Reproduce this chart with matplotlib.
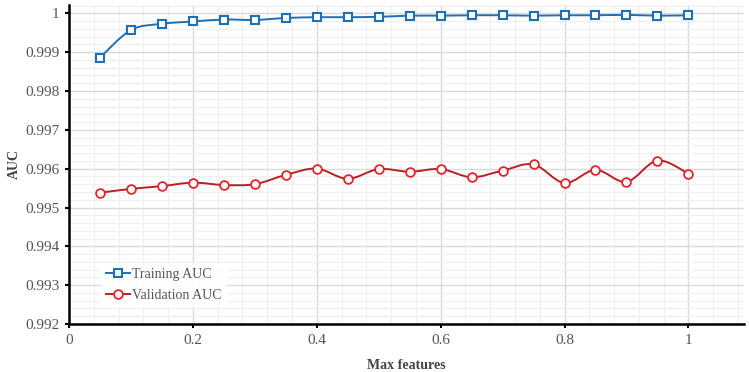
import matplotlib
matplotlib.use("Agg")
import matplotlib.pyplot as plt
from matplotlib.path import Path
from matplotlib.patches import PathPatch
from matplotlib.lines import Line2D
from matplotlib.ticker import MultipleLocator, FuncFormatter

max_features = [0.05, 0.1, 0.15, 0.2, 0.25, 0.3, 0.35, 0.4, 0.45, 0.5,
                0.55, 0.6, 0.65, 0.7, 0.75, 0.8, 0.85, 0.9, 0.95, 1.0]

train_auc = [0.99886, 0.99957, 0.99973, 0.99979, 0.99984, 0.99983, 0.99988,
             0.99990, 0.99990, 0.99991, 0.99994, 0.99994, 0.99995, 0.99995,
             0.99994, 0.99995, 0.99995, 0.99996, 0.99994, 0.99995]

valid_auc = [0.99538, 0.99548, 0.99555, 0.99564, 0.99558, 0.99560, 0.99584,
             0.99600, 0.99574, 0.99599, 0.99592, 0.99599, 0.99578, 0.99595,
             0.99611, 0.99563, 0.99597, 0.99566, 0.99621, 0.99587]

x_ticks = [0, 0.2, 0.4, 0.6, 0.8, 1]
y_ticks = [0.992, 0.993, 0.994, 0.995, 0.996, 0.997, 0.998, 0.999, 1.0]

plt.rcParams["font.family"] = ["Liberation Serif", "DejaVu Serif"]


def smooth_path(xs, ys):
    # Catmull-Rom curve through the points, drawn as cubic Bezier segments
    pts = list(zip(xs, ys))
    verts = [pts[0]]
    codes = [Path.MOVETO]
    n = len(pts)
    for i in range(n - 1):
        p0 = pts[i - 1] if i > 0 else pts[i]
        p1 = pts[i]
        p2 = pts[i + 1]
        p3 = pts[i + 2] if i + 2 < n else pts[i + 1]
        c1 = (p1[0] + (p2[0] - p0[0]) / 6, p1[1] + (p2[1] - p0[1]) / 6)
        c2 = (p2[0] - (p3[0] - p1[0]) / 6, p2[1] - (p3[1] - p1[1]) / 6)
        verts += [c1, c2, p2]
        codes += [Path.CURVE4] * 3
    return Path(verts, codes)


fig = plt.figure(figsize=(7.49, 3.72), dpi=100)
ax = fig.add_axes([0.0921, 0.129, 0.9006, 0.8576])

blue = "#1f6fb4"
red_line = "#b82025"
red_marker = "#e0252b"

ax.add_patch(PathPatch(smooth_path(max_features, train_auc),
                       facecolor="none", edgecolor=blue, lw=1.4, zorder=3))
ax.add_patch(PathPatch(smooth_path(max_features, valid_auc),
                       facecolor="none", edgecolor=red_line, lw=1.4, zorder=3))

ax.plot(max_features, train_auc, ls="none", marker="s", ms=6.3,
        mfc="white", mec=blue, mew=1.5, zorder=4)
ax.plot(max_features, valid_auc, ls="none", marker="o", ms=6.3,
        mfc="white", mec=red_marker, mew=1.3, zorder=4)

ax.set_xlim(0, 1.089)
ax.set_ylim(0.992, 1.000215)

ax.set_xticks(x_ticks)
ax.set_yticks(y_ticks)
ax.xaxis.set_major_formatter(FuncFormatter(lambda v, p: f"{v:g}"))
ax.yaxis.set_major_formatter(FuncFormatter(lambda v, p: f"{v:.3f}".rstrip("0").rstrip(".")))
ax.xaxis.set_minor_locator(MultipleLocator(0.04))
ax.yaxis.set_minor_locator(MultipleLocator(0.0002))

ax.grid(which="major", color="#dadada", lw=1.0, zorder=0)
ax.grid(which="minor", color="#efefef", lw=0.8, zorder=0)
ax.set_axisbelow(True)

for side in ["top", "right"]:
    ax.spines[side].set_visible(False)
for side in ["left", "bottom"]:
    ax.spines[side].set_linewidth(1.8)
    ax.spines[side].set_color("black")

ax.tick_params(which="major", direction="out", length=3, width=1.5,
               color="black", labelsize=11, labelcolor="#555555", pad=4)
ax.tick_params(which="minor", length=0)

ax.set_xlabel("Max features", fontsize=10, fontweight="bold",
              color="#444444", labelpad=9)
ax.set_ylabel("AUC", fontsize=10, fontweight="bold",
              color="#444444", labelpad=3)

handles = [
    Line2D([], [], color=blue, lw=1.4, marker="s", ms=6.3,
           mfc="white", mec=blue, mew=1.5),
    Line2D([], [], color=red_line, lw=1.4, marker="o", ms=6.3,
           mfc="white", mec=red_marker, mew=1.3),
]
leg = ax.legend(handles, ["Training AUC", "Validation AUC"],
                loc="center left", bbox_to_anchor=(0.047, 0.122),
                borderaxespad=0, fontsize=10, frameon=True,
                handlelength=1.7, handletextpad=0.15, labelspacing=0.55)
leg.get_frame().set_facecolor("white")
leg.get_frame().set_edgecolor("none")
leg.get_frame().set_alpha(0.9)
for t in leg.get_texts():
    t.set_color("#555555")

fig.savefig("out.png", dpi=100)
plt.close(fig)
